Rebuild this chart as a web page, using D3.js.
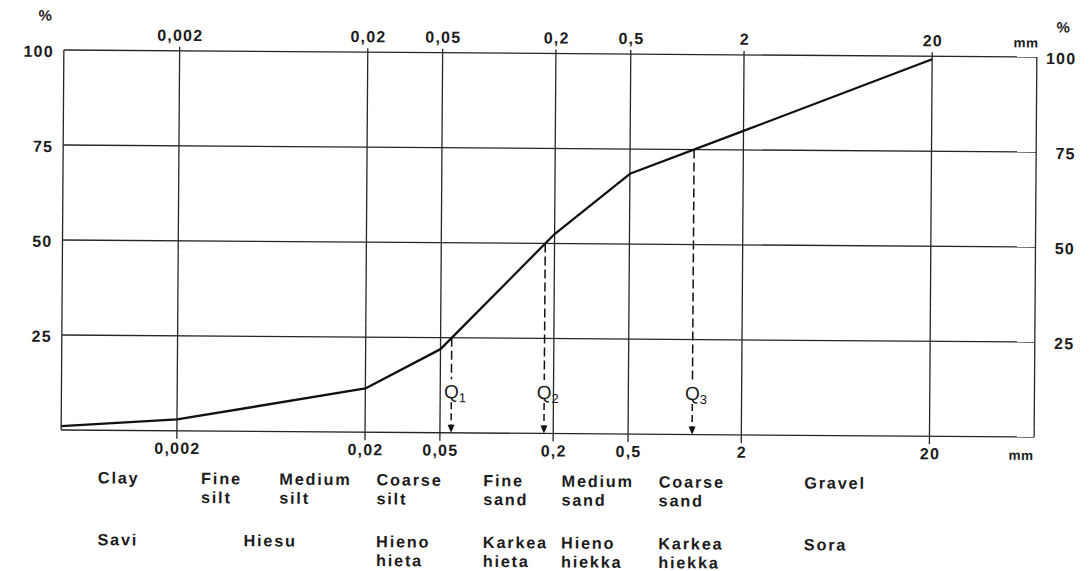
<!DOCTYPE html>
<html><head><meta charset="utf-8">
<script src="https://cdn.jsdelivr.net/npm/d3@7"></script>
<style>
html,body{margin:0;padding:0;background:#fff;}
svg{display:block;}
text{font-family:"Liberation Sans",Arial,Helvetica,sans-serif;fill:#1c1c1c;}
</style></head><body>
<svg id="chart" width="1091" height="571"></svg>
<script>
// ---- data ----
const sizeMin = 0.000485, sizeMax = 72;              // mm, extent of the log axis
const grainSizes = [0.000485, 0.002, 0.02, 0.05, 0.2, 0.5, 2, 20];   // mm
const passingPct = [1, 3, 11.5, 22, 52.5, 68.5, 80, 99.2];          // %
const gridSizes = [0.002, 0.02, 0.05, 0.2, 0.5, 2, 20];
const sizeTickLabels = ["0,002", "0,02", "0,05", "0,2", "0,5", "2", "20"];
const pctTicks = [25, 50, 75, 100];
const pctTickLabels = ["25", "50", "75", "100"];
const pctGrid = [0, 25, 50, 75, 100];
const quartilePct = [25, 50, 75];
const quartileSubs = ["1", "2", "3"];
const classRangesEn = [[sizeMin, 0.002], [0.002, 0.006], [0.006, 0.02], [0.02, 0.06], [0.06, 0.2], [0.2, 0.6], [0.6, 2], [2, 20]];
const classNamesEn = [["Clay"], ["Fine", "silt"], ["Medium", "silt"], ["Coarse", "silt"], ["Fine", "sand"], ["Medium", "sand"], ["Coarse", "sand"], ["Gravel"]];
const classRangesFi = [[sizeMin, 0.002], [0.002, 0.02], [0.02, 0.06], [0.06, 0.2], [0.2, 0.6], [0.6, 2], [2, 20]];
const classNamesFi = [["Savi"], ["Hiesu"], ["Hieno", "hieta"], ["Karkea", "hieta"], ["Hieno", "hiekka"], ["Karkea", "hiekka"], ["Sora"]];

// ---- layout ----
const svg = d3.select("#chart");
svg.append("rect").attr("width", 1091).attr("height", 571).attr("fill", "#fff");
const g = svg.append("g").attr("transform", "rotate(0.41,549,243)");

const x = d3.scaleLog().domain([sizeMin, sizeMax]).range([62.5, 1035.5]);
const y = d3.scaleLinear().domain([0, 100]).range([433.5, 53.5]);
const ink = "#262626";

// horizontal grid / frame
g.selectAll("line.h").data(pctGrid).join("line")
  .attr("x1", x(sizeMin)).attr("x2", x(sizeMax))
  .attr("y1", d => y(d)).attr("y2", d => y(d))
  .attr("stroke", ink).attr("stroke-width", 1.3);
// left/right frame
g.selectAll("line.v0").data([sizeMin, sizeMax]).join("line")
  .attr("x1", d => x(d)).attr("x2", d => x(d))
  .attr("y1", y(100)).attr("y2", y(0))
  .attr("stroke", ink).attr("stroke-width", 1.3);
// vertical grid with ticks beyond frame
g.selectAll("line.vg").data(gridSizes).join("line")
  .attr("x1", d => x(d)).attr("x2", d => x(d))
  .attr("y1", y(100) - 4).attr("y2", y(0) + 8)
  .attr("stroke", ink).attr("stroke-width", 1.3);

// tick labels
const tickFont = sel => sel.attr("font-size", 16).attr("font-weight", "bold").attr("letter-spacing", 1.2).attr("dominant-baseline", "central");
g.selectAll("text.tt").data(gridSizes).join("text")
  .attr("x", d => x(d) + 0.6).attr("y", 38).attr("text-anchor", "middle")
  .call(tickFont).text((d, i) => sizeTickLabels[i]);
g.selectAll("text.tb").data(gridSizes).join("text")
  .attr("x", d => x(d) + 0.6).attr("y", 451).attr("text-anchor", "middle")
  .call(tickFont).text((d, i) => sizeTickLabels[i]);
g.selectAll("text.yl").data(pctTicks).join("text")
  .attr("x", 52.5).attr("y", d => y(d) + 1.5).attr("text-anchor", "end")
  .call(tickFont).text((d, i) => pctTickLabels[i]);
g.selectAll("text.yr").data(pctTicks).join("text")
  .attr("x", 1075).attr("y", d => y(d) + 1.5).attr("text-anchor", "end")
  .call(tickFont).text((d, i) => pctTickLabels[i]);
g.append("text").attr("x", 51.5).attr("y", 18.6).attr("text-anchor", "end").call(tickFont).attr("font-size", 15).text("%");
g.append("text").attr("x", 1055).attr("y", 23.3).attr("text-anchor", "start").call(tickFont).attr("font-size", 15).text("%");
g.append("text").attr("x", 1012).attr("y", 39.5).call(tickFont).attr("font-size", 13.5).attr("letter-spacing", 0.5).text("mm");
g.append("text").attr("x", 1010).attr("y", 452).call(tickFont).attr("font-size", 13.5).attr("letter-spacing", 0.5).text("mm");

// curve
const pts = grainSizes.map((s, i) => [s, passingPct[i]]);
g.append("path").datum(pts)
  .attr("d", d3.line().x(d => x(d[0])).y(d => y(d[1])))
  .attr("fill", "none").attr("stroke", "#111").attr("stroke-width", 2.3).attr("stroke-linejoin", "round");

// quartiles
function sizeAt(p) {
  for (let i = 1; i < pts.length; i++) {
    const [s0, p0] = pts[i - 1], [s1, p1] = pts[i];
    if (p >= p0 && p <= p1) {
      const t = (p - p0) / (p1 - p0);
      return Math.exp(Math.log(s0) + t * (Math.log(s1) - Math.log(s0)));
    }
  }
  return null;
}
const labelY = y(0) - 41.5;
quartilePct.forEach((q, i) => {
  const qx = x(sizeAt(q));
  g.append("line").attr("x1", qx).attr("x2", qx).attr("y1", y(q)).attr("y2", labelY - 12)
    .attr("stroke", "#111").attr("stroke-width", 1.5).attr("stroke-dasharray", "9,4");
  g.append("line").attr("x1", qx).attr("x2", qx).attr("y1", labelY + 11).attr("y2", y(0) - 7)
    .attr("stroke", "#111").attr("stroke-width", 1.5).attr("stroke-dasharray", "7,4");
  g.append("path").attr("d", `M${qx - 3.5},${y(0) - 8}L${qx + 3.5},${y(0) - 8}L${qx},${y(0)}Z`).attr("fill", "#111");
  const t = g.append("text").attr("y", labelY).attr("dominant-baseline", "central");
  t.append("tspan").attr("font-size", 19).text("Q");
  t.append("tspan").attr("font-size", 13).attr("dx", 0).attr("dy", 6).text(quartileSubs[i]);
  const qw = t.node().getSubStringLength(0, 1);
  t.attr("x", qx - qw / 2);
});

// class labels (multi-line labels as one text with tspans)
const classFont = sel => sel.attr("font-size", 16.3).attr("font-weight", "bold").attr("letter-spacing", 1.8).attr("dominant-baseline", "central");
const mid = r => Math.sqrt(r[0] * r[1]);
function addLabel(lines, yTop, lineGap) {
  const t = g.append("text").attr("y", yTop).call(classFont);
  lines.forEach((s, k) => {
    t.append("tspan").attr("class", "ln").attr("dy", k === 0 ? 0 : lineGap).text(s);
  });
  return t;
}
function place(t, left) {
  t.attr("x", left);
  t.selectAll("tspan.ln").attr("x", left);
}
const enLeft = [];
classNamesEn.forEach((lines, i) => {
  const t = addLabel(lines, 480.6, 18.9);
  const w = t.select("tspan").node().getComputedTextLength();
  const left = x(mid(classRangesEn[i])) - w / 2;
  enLeft.push(left);
  place(t, left);
});
classNamesFi.forEach((lines, i) => {
  const r = classRangesFi[i];
  const j = classRangesEn.findIndex(e => e[0] === r[0] && e[1] === r[1]);
  const t = addLabel(lines, 542.4, 18.9);
  const w = t.select("tspan").node().getComputedTextLength();
  const left = j >= 0 ? enLeft[j] : x(mid(r)) - w / 2;
  place(t, left);
});
</script>
</body></html>
